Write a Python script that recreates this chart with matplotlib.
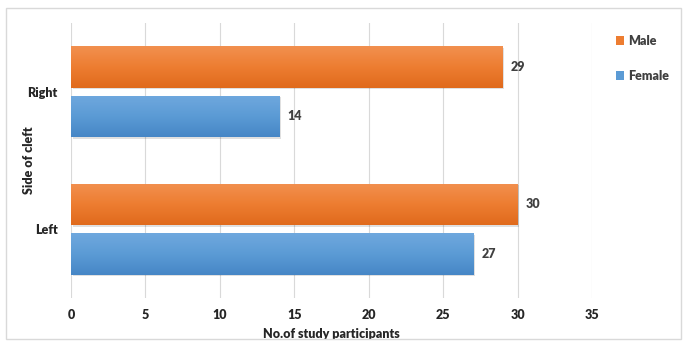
import numpy as np
import matplotlib
matplotlib.use('Agg')
import matplotlib.pyplot as plt
from matplotlib.patches import Rectangle
from matplotlib.colors import LinearSegmentedColormap

plt.rcParams['font.family'] = ['Lato', 'DejaVu Sans']
plt.rcParams['font.weight'] = 800

# Datos
categorias = ['Left', 'Right']
male = [30, 29]
female = [27, 14]
series = ['Male', 'Female']

# Colores (arriba claro, abajo oscuro)
naranja = ('#F2904F', '#ED7D31', '#E06A1C')
azul = ('#6FA8DE', '#5B9BD5', '#4686C6')
texto = '#262626'

fig = plt.figure(figsize=(6.83, 3.41), dpi=100)
ax = fig.add_axes([0.104, 0.126, 0.763, 0.807])

y = np.arange(len(categorias))
h = 0.3
gap = 0.03

bars_m = ax.barh(y + h / 2 + gap, male, height=h, color=naranja[1], label=series[0], zorder=3)
bars_f = ax.barh(y - h / 2 - gap, female, height=h, color=azul[1], label=series[1], zorder=3)

# Degradado vertical dentro de cada barra + sombra ligera
grad = np.linspace(0, 1, 100).reshape(-1, 1)
for bars, cols in ((bars_m, naranja), (bars_f, azul)):
    cmap = LinearSegmentedColormap.from_list('g', [cols[2], cols[1], cols[0]])
    for b in bars:
        x0, y0 = b.get_x(), b.get_y()
        w, hh = b.get_width(), b.get_height()
        sombra = Rectangle((x0 + 0.1, y0 - 0.012), w, hh, color='#000000', alpha=0.12, zorder=2, lw=0)
        ax.add_patch(sombra)
        im = ax.imshow(grad, extent=[x0, x0 + w, y0, y0 + hh], origin='lower',
                       aspect='auto', cmap=cmap, zorder=3.5)
        im.set_clip_path(b)
        ax.text(x0 + w + 0.55, y0 + hh / 2, str(int(w)), va='center', ha='left',
                fontsize=9, fontweight=800, color='#404040', zorder=4)

ax.set_xlim(0, 35)
ax.set_ylim(-0.5, 1.5)
ax.set_xticks(np.arange(0, 36, 5))
ax.set_yticks(y)
ax.set_yticklabels(categorias)
ax.tick_params(axis='both', length=0, labelsize=9, colors=texto)
ax.tick_params(axis='y', pad=9.5)
ax.tick_params(axis='x', pad=8)
for lab in ax.get_xticklabels() + ax.get_yticklabels():
    lab.set_fontweight(800)
ax.grid(axis='x', color='#D9D9D9', lw=0.8, zorder=0)
for s in ax.spines.values():
    s.set_visible(False)

ax.set_xlabel('No.of study participants', fontsize=9, fontweight=800, color=texto, labelpad=5)
ax.set_ylabel('Side of cleft', fontsize=9, fontweight=800, color=texto)
ax.yaxis.set_label_coords(-0.069, 0.5)

leg = ax.legend(handles=[bars_m, bars_f], loc='upper left', bbox_to_anchor=(0.885, 0.93),
                bbox_transform=fig.transFigure, frameon=False, handlelength=0.7,
                handleheight=0.7, handletextpad=0.3, labelspacing=1.8, fontsize=9)
for t in leg.get_texts():
    t.set_color('#404040')
    t.set_fontweight(800)

# Marco del gráfico
fig.patches.append(Rectangle((0.009, 0.006), 0.988, 0.97, transform=fig.transFigure,
                             fill=False, edgecolor='#D9D9D9', lw=1))

plt.savefig('out.png', dpi=100)
